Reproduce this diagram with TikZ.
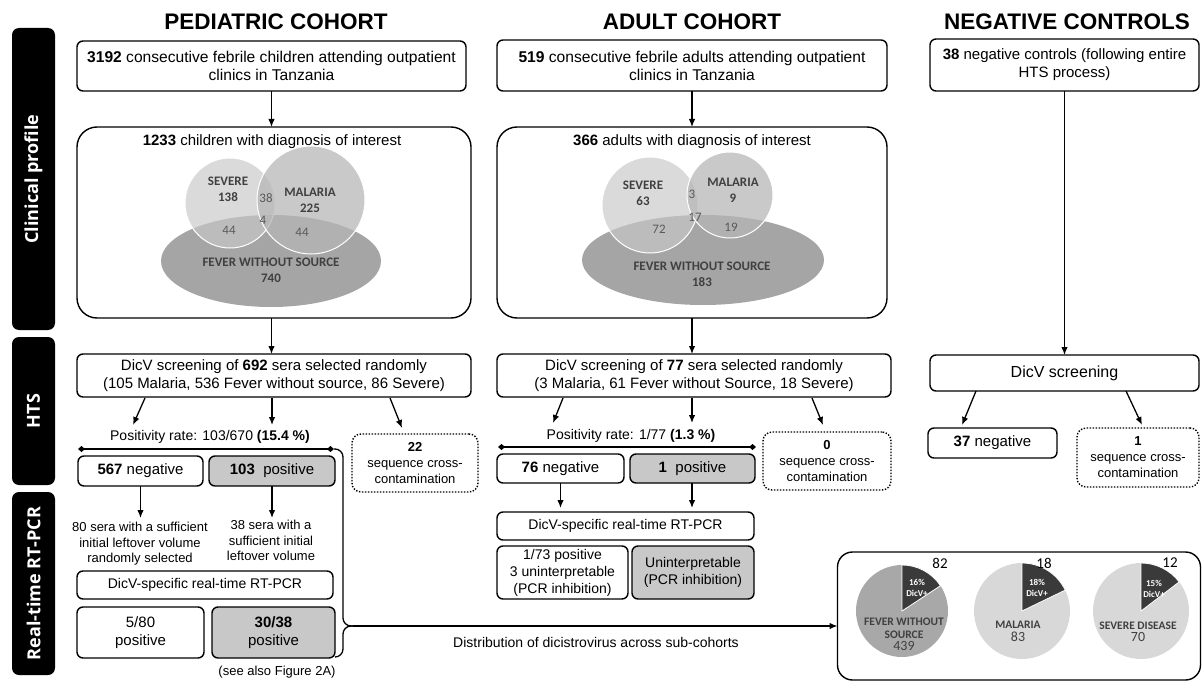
\documentclass[tikz,border=0pt]{standalone}
\usepackage{fontspec}
\setmainfont{Liberation Sans}
\newfontfamily\venfont{Carlito}
\newfontfamily\sidefont{Open Sans}
\usetikzlibrary{arrows.meta,calc}
\newcommand{\setfs}[2]{\fontsize{#1}{#2}\selectfont}
\definecolor{boxgray}{RGB}{200,200,200}
\definecolor{fevc}{RGB}{165,165,165}
\definecolor{sevc}{RGB}{200,200,200}
\definecolor{malc}{RGB}{182,182,182}
\definecolor{vtxt}{RGB}{64,64,64}
\definecolor{vnum}{RGB}{90,90,90}
\definecolor{piedark}{RGB}{58,58,58}
\definecolor{piemid}{RGB}{168,168,168}
\definecolor{pielight}{RGB}{216,216,216}
\begin{document}
\begin{tikzpicture}[x=1pt,y=-1pt,
  every node/.style={inner sep=0pt, outer sep=0pt},
  box/.style={draw, line width=1.4pt, rounded corners=6pt, align=center, font=\setfs{15}{18}},
  graybox/.style={box, fill=boxgray},
  dotbox/.style={draw, line width=1.4pt, dash pattern=on 1.4pt off 1.6pt, rounded corners=9pt, align=center, font=\setfs{13}{16}},
  side/.style={fill=black, rounded corners=7pt, rotate=90, text=white, font=\sidefont\bfseries\setfs{18}{20}},
  hdr/.style={font=\bfseries\setfs{22.5}{26}},
  txt/.style={align=center, font=\setfs{15}{18}},
  small/.style={align=center, font=\setfs{13}{15.5}},
  arr/.style={-{Latex[length=8pt,width=6.5pt]}, line width=1.3pt},
  dline/.style={{Diamond[length=7pt,width=6pt]}-{Diamond[length=7pt,width=6pt]}, line width=1.4pt},
  vlab/.style={align=center, text=vtxt, font=\venfont\bfseries\setfs{13}{16}},
  vnumst/.style={text=vnum, font=\venfont\setfs{13}{16}},
  sev/.style={fill=sevc, fill opacity=0.67, draw=white, draw opacity=1, line width=1pt},
  mal/.style={fill=malc, fill opacity=0.74, draw=white, draw opacity=1, line width=1pt},
  wedgelab/.style={align=center, text=white, font=\venfont\bfseries\setfs{9}{10.5}},
  pielab/.style={align=center, text=vtxt, font=\venfont\bfseries\setfs{11.5}{13}},
  pienum/.style={text=vtxt, font=\venfont\setfs{14}{16}},
  piecnt/.style={text=black, font=\venfont\setfs{15}{17}}
]
\useasboundingbox (0,0) rectangle (1202,682);

% headers
\node[hdr] (hPed) at (276,22) {PEDIATRIC COHORT};
\node[hdr] (hAd) at (692,22) {ADULT COHORT};
\node[hdr] (hNeg) at (1067,22) {NEGATIVE CONTROLS};

% side bars
\node[side, minimum width=302pt, minimum height=43pt] (sClin) at (33.5,179) {Clinical profile};
\node[side, minimum width=148pt, minimum height=43pt] (sHTS) at (33.5,411) {HTS};
\node[side, minimum width=183pt, minimum height=43pt] (sRT) at (33.5,583.5) {Real-time RT-PCR};

% first row
\node[box, font=\setfs{15.6}{18}, minimum width=389pt, minimum height=50pt] (pBox1) at (271.5,66) {\textbf{3192} consecutive febrile children attending outpatient\\clinics in Tanzania};
\node[box, font=\setfs{15.6}{18}, minimum width=390pt, minimum height=51pt] (aBox1) at (692,65.5) {\textbf{519} consecutive febrile adults attending outpatient\\clinics in Tanzania};
\node[box, minimum width=269pt, minimum height=52pt] (nBox1) at (1064.5,65) {\textbf{38} negative controls (following entire\\HTS process)};

% big boxes
\node[box, rounded corners=20pt, minimum width=394pt, minimum height=191pt] (pBig) at (274,222.5) {};
\node[box, rounded corners=20pt, minimum width=390pt, minimum height=191pt] (aBig) at (692,222.5) {};
\node[txt] (pBigT) at (272,142) {\textbf{1233} children with diagnosis of interest};
\node[txt] (aBigT) at (692,142) {\textbf{366} adults with diagnosis of interest};

% pediatric venn
\fill[fevc] (271,261) ellipse [x radius=110, y radius=46];
\filldraw[sev] (230,203) circle [radius=45];
\filldraw[mal] (311,200) circle [radius=54];
\node[vlab] (pvS) at (228,189) {SEVERE\\138};
\node[vlab] (pvM) at (310,200) {MALARIA\\225};
\node[vnumst] (pv38) at (266,198) {38};
\node[vnumst] (pv4) at (263,220) {4};
\node[vnumst] (pv44a) at (229,230) {44};
\node[vnumst] (pv44b) at (302,232) {44};
\node[vlab] (pvF) at (271,270) {FEVER WITHOUT SOURCE\\740};

% adult venn
\fill[fevc] (703,260) ellipse [x radius=121, y radius=45];
\filldraw[sev] (650,205) circle [radius=48];
\filldraw[mal] (730,195) circle [radius=43];
\node[vlab] (avS) at (643,193) {SEVERE\\63};
\node[vlab] (avM) at (733,190) {MALARIA\\9};
\node[vnumst] (av3) at (692,194) {3};
\node[vnumst] (av17) at (695,217) {17};
\node[vnumst] (av72) at (659,229) {72};
\node[vnumst] (av19) at (731,227) {19};
\node[vlab] (avF) at (702,274) {FEVER WITHOUT SOURCE\\183};

% HTS boxes
\node[box, minimum width=394pt, minimum height=43pt] (pHTS) at (274,375.5) {DicV screening of \textbf{692} sera selected randomly\\(105 Malaria, 536 Fever without source, 86 Severe)};
\node[box, minimum width=394pt, minimum height=43pt] (aHTS) at (694,375.5) {DicV screening of \textbf{77} sera selected randomly\\(3 Malaria, 61 Fever without Source, 18 Severe)};
\node[box, font=\setfs{16}{18}, minimum width=269pt, minimum height=36pt] (nHTS) at (1064.5,373) {DicV screening};

% column arrows
\draw[arr] (pBox1.south) -- (pBox1.south |- pBig.north);
\draw[arr] (pBox1.south |- pBig.south) -- (pBox1.south |- pHTS.north);
\draw[arr] (aBox1.south) -- (aBox1.south |- aBig.north);
\draw[arr] (aBox1.south |- aBig.south) -- (aBox1.south |- aHTS.north);
\draw[arr] (nBox1.south) -- (nBox1.south |- nHTS.north);

% positivity
\node[txt, font=\setfs{14}{17}] (pRate) at (210,437) {Positivity rate: 103/670 \textbf{(15.4 \%)}};
\node[txt, font=\setfs{14}{17}] (aRate) at (631,436) {Positivity rate: 1/77 \textbf{(1.3 \%)}};
\coordinate (pL) at (78,449);
\coordinate (pR) at (334,449);
\coordinate (aL) at (498,447);
\coordinate (aR) at (756,447);
\draw[dline] (pL) -- (pR);
\draw[dline] (aL) -- (aR);

% HTS outcome boxes
\node[box, minimum width=125pt, minimum height=30pt] (pNeg) at (140.5,471) {\textbf{567} negative};
\node[graybox, minimum width=126pt, minimum height=30pt] (pPos) at (272,471) {\textbf{103}\ \ positive};
\node[box, minimum width=127pt, minimum height=29pt] (aNeg) at (560.5,468.5) {\textbf{76} negative};
\node[graybox, minimum width=125pt, minimum height=29pt] (aPos) at (692.5,468.5) {\textbf{1}\ \ positive};
\node[dotbox, minimum width=126pt, minimum height=58pt] (pCont) at (415,463) {\textbf{22}\\sequence cross-\\contamination};
\node[dotbox, minimum width=128pt, minimum height=58pt] (aCont) at (827,461) {\textbf{0}\\sequence cross-\\contamination};
\node[box, minimum width=129pt, minimum height=30pt] (nNeg) at (992.5,443) {\textbf{37} negative};
\node[dotbox, minimum width=122pt, minimum height=59pt] (nCont) at (1138,457.5) {\textbf{1}\\sequence cross-\\contamination};

% HTS arrows
\coordinate (pa1s) at (145,398); \coordinate (pa1e) at (133,425);
\coordinate (pa2s) at (272,398); \coordinate (pa2e) at (272,425);
\coordinate (pa3s) at (390,398); \coordinate (pa3e) at (402,428);
\draw[arr] (pa1s) -- (pa1e);
\draw[arr] (pa2s) -- (pa2e);
\draw[arr] (pa3s) -- (pa3e);
\coordinate (aa1s) at (563,398); \coordinate (aa1e) at (553,423);
\coordinate (aa2s) at (692,398); \coordinate (aa2e) at (692,423);
\coordinate (aa3s) at (812,398); \coordinate (aa3e) at (823,425);
\draw[arr] (aa1s) -- (aa1e);
\draw[arr] (aa2s) -- (aa2e);
\draw[arr] (aa3s) -- (aa3e);
\coordinate (na1s) at (976,391); \coordinate (na1e) at (962,425);
\coordinate (na2s) at (1126,391); \coordinate (na2e) at (1142,425);
\draw[arr] (na1s) -- (na1e);
\draw[arr] (na2s) -- (na2e);

% pediatric RT-PCR
\node[small] (p80) at (140,544) {80 sera with a sufficient\\initial leftover volume\\randomly selected};
\node[small] (p38) at (271,540.5) {38 sera with a\\sufficient initial\\leftover volume};
\draw[arr] (pNeg.south) -- ++(0,32);
\draw[arr] (pPos.south) -- ++(0,32);
\node[box, font=\setfs{14}{17}, minimum width=256pt, minimum height=28pt] (pPCR) at (205,585) {DicV-specific real-time RT-PCR};
\node[box, minimum width=127pt, minimum height=51pt] (p580) at (140.5,632.5) {5/80\\positive};
\node[graybox, minimum width=123pt, minimum height=51pt] (p3038) at (273.5,632.5) {\textbf{30/38}\\positive};
\node[small] (pSee) at (277,672) {(see also Figure 2A)};

% adult RT-PCR
\node[box, font=\setfs{14}{17}, minimum width=257pt, minimum height=28pt] (aPCR) at (625.5,526) {DicV-specific real-time RT-PCR};
\draw[arr] (aNeg.south) -- ++(0,25);
\draw[arr] (aPos.south -| aa2s) -- ++(0,25);
\node[box, font=\setfs{14}{17}, minimum width=131pt, minimum height=53pt] (a173) at (562.5,572.5) {1/73 positive\\3 uninterpretable\\(PCR inhibition)};
\node[graybox, font=\setfs{14}{17}, minimum width=122pt, minimum height=53pt] (aUnint) at (693,572.5) {Uninterpretable\\(PCR inhibition)};

% brace and distribution arrow
\coordinate (bB) at (335,657);
\coordinate (bM) at (353,626);
\draw[line width=1.3pt, rounded corners=8pt] (pR) -- (343,449) -- (343,626) -- (bM);
\draw[line width=1.3pt, rounded corners=8pt] (bB) -- (343,657) -- (343,626) -- (bM);
\node[box, line width=1.4pt, rounded corners=15pt, minimum width=363pt, minimum height=128pt] (pieBox) at (1019,616) {};
\draw[arr] (bM) -- (bM -| pieBox.west);
\node[txt, font=\setfs{14}{17}] (dist) at (596,642) {Distribution of dicistrovirus across sub-cohorts};

% pies
\coordinate (c1) at (902,611);
\coordinate (c2) at (1022,611);
\coordinate (c3) at (1141,611);
\fill[piemid] (c1) circle [radius=46pt];
\filldraw[fill=piedark, draw=white, line width=0.8pt] (c1) -- ++(90:46pt) arc[start angle=90, end angle=33.3, radius=46pt] -- cycle;
\fill[pielight] (c2) circle [radius=48pt];
\filldraw[fill=piedark, draw=white, line width=0.8pt] (c2) -- ++(90:48pt) arc[start angle=90, end angle=25.8, radius=48pt] -- cycle;
\fill[pielight] (c3) circle [radius=48pt];
\filldraw[fill=piedark, draw=white, line width=0.8pt] (c3) -- ++(90:48pt) arc[start angle=90, end angle=37.3, radius=48pt] -- cycle;
\node[wedgelab] (w1) at (917,588) {16\%\\DicV+};
\node[wedgelab] (w2) at (1037,588) {18\%\\DicV+};
\node[wedgelab] (w3) at (1154,589) {15\%\\DicV+};
\node[piecnt] (n82) at (940,563) {82};
\node[piecnt] (n18) at (1044,563) {18};
\node[piecnt] (n12) at (1170,563) {12};
\node[pielab] (l1) at (904,628) {FEVER WITHOUT\\SOURCE};
\node[pienum] (l1n) at (904,646) {439};
\node[pielab] (l2) at (1018,625) {MALARIA};
\node[pienum] (l2n) at (1018,637) {83};
\node[pielab] (l3) at (1138,626) {SEVERE DISEASE};
\node[pienum] (l3n) at (1138,637) {70};
\end{tikzpicture}
\end{document}
